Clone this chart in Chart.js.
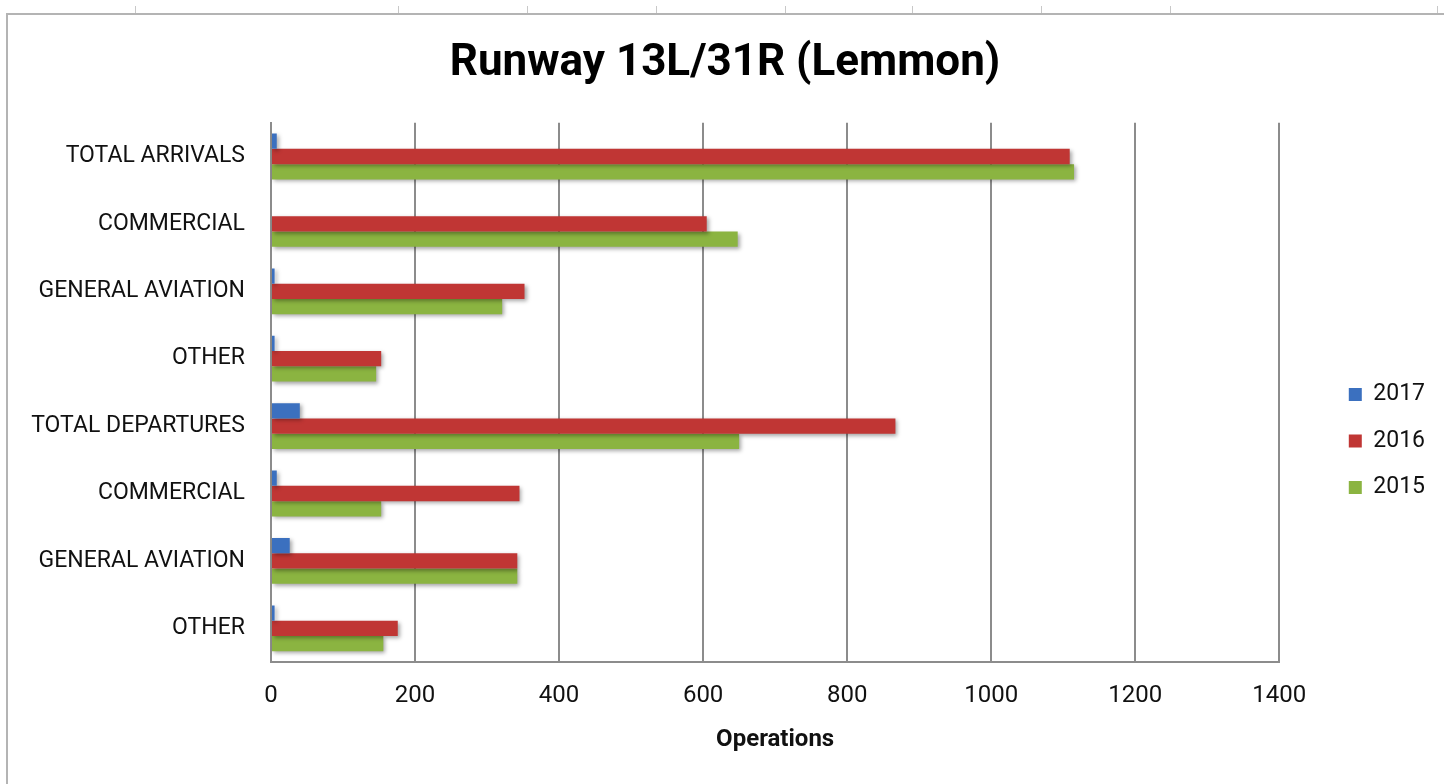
<!DOCTYPE html>
<html>
<head>
<meta charset="utf-8">
<script src="https://cdn.jsdelivr.net/npm/chart.js@4/dist/chart.umd.min.js"></script>
<style>
  html, body { margin: 0; padding: 0; background: #fff; }
  #wrap { position: relative; width: 1444px; height: 784px; overflow: hidden; }
  #chart { position: absolute; left: 0; top: 0; }
  /* spreadsheet edges around the chart object */
  .edge-top { position: absolute; left: 6px; right: 0; top: 13px; height: 2px; background: #b4b4b4; }
  .edge-left { position: absolute; left: 6px; top: 13px; bottom: 0; width: 2px; background: #b4b4b4; }
  .rule { position: absolute; top: 6px; width: 1px; height: 7px; background: #c8c8c8; }
</style>
</head>
<body>
<div id="wrap">
  <canvas id="chart" width="1444" height="784"></canvas>
  <div class="edge-top"></div>
  <div class="edge-left"></div>
  <div class="rule" style="left:135px"></div>
  <div class="rule" style="left:398px"></div>
  <div class="rule" style="left:527px"></div>
  <div class="rule" style="left:656px"></div>
  <div class="rule" style="left:785px"></div>
  <div class="rule" style="left:912px"></div>
  <div class="rule" style="left:1041px"></div>
  <div class="rule" style="left:1170px"></div>
  <div class="rule" style="left:1437px"></div>
</div>
<script>
// Chart data
const categories = ['TOTAL ARRIVALS', 'COMMERCIAL', 'GENERAL AVIATION', 'OTHER',
                    'TOTAL DEPARTURES', 'COMMERCIAL', 'GENERAL AVIATION', 'OTHER'];
const years = ['2017', '2016', '2015'];
const ops2017 = [8, 0, 5, 5, 40, 8, 26, 5];
const ops2016 = [1109, 605, 352, 153, 867, 345, 342, 176];
const ops2015 = [1115, 648, 321, 146, 650, 153, 342, 156];
const xTicks = [0, 200, 400, 600, 800, 1000, 1200, 1400];

const font = 'Roboto';
const gridGray = '#8c8c8c';

// soft drop shadow under the bars, like the Excel style
const barShadow = {
    id: 'barShadow',
    beforeDatasetsDraw(chart) {
        const c = chart.ctx;
        c.save();
        c.shadowColor = 'rgba(0,0,0,0.35)';
        c.shadowBlur = 4;
        c.shadowOffsetX = 2;
        c.shadowOffsetY = 2;
    },
    afterDatasetsDraw(chart) {
        chart.ctx.restore();
    }
};

const ctx = document.getElementById('chart').getContext('2d');
const chart = new Chart(ctx, {
    type: 'bar',
    data: {
        labels: categories,
        datasets: [
            { label: years[0], data: ops2017, backgroundColor: '#3b70bf' },
            { label: years[1], data: ops2016, backgroundColor: '#c03634' },
            { label: years[2], data: ops2015, backgroundColor: '#8bb441' }
        ]
    },
    options: {
        indexAxis: 'y',
        responsive: false,
        animation: false,
        categoryPercentage: 0.68,
        barPercentage: 1.0,
        layout: { padding: { top: 8, left: 15, right: 9, bottom: 20 } },
        plugins: {
            title: {
                display: true,
                text: 'Runway 13L/31R (Lemmon)',
                color: '#000',
                font: { family: font, size: 44, weight: 'bold' },
                padding: { top: 30, bottom: 32 }
            },
            legend: {
                position: 'right',
                fullSize: false,
                labels: {
                    boxWidth: 13,
                    boxHeight: 13,
                    padding: 23.5,
                    color: '#111',
                    font: { family: font, size: 23 }
                },
                // empty title only pushes the items down to where Excel had them
                title: { display: true, text: '', font: { size: 12 }, padding: { top: 82.6, bottom: 0 } }
            },
            tooltip: { enabled: false }
        },
        scales: {
            x: {
                min: 0,
                max: 1400,
                afterBuildTicks: scale => { scale.ticks = xTicks.map(v => ({ value: v })); },
                afterFit: scale => { scale.height = 102; },
                ticks: {
                    padding: 20,
                    color: '#111',
                    font: { family: font, size: 24 },
                    callback: v => String(v)
                },
                grid: { color: gridGray, lineWidth: 2, drawTicks: false },
                border: { display: true, color: gridGray, width: 2 },
                title: {
                    display: true,
                    text: 'Operations',
                    color: '#111',
                    font: { family: font, size: 24, weight: 'bold' },
                    padding: { top: 15, bottom: 10 }
                }
            },
            y: {
                ticks: { padding: 26, color: '#111', font: { family: font, size: 23 } },
                grid: { display: false, drawTicks: false },
                border: { display: true, color: gridGray, width: 2 },
                afterFit: scale => { scale.width = 256; }
            },
            // blank spacer between plot and legend
            spacer: {
                type: 'linear',
                axis: 'y',
                position: 'right',
                grid: { display: false, drawTicks: false },
                ticks: { display: false },
                border: { display: false },
                afterFit: scale => { scale.width = 46; }
            }
        }
    },
    plugins: [barShadow]
});
</script>
</body>
</html>
